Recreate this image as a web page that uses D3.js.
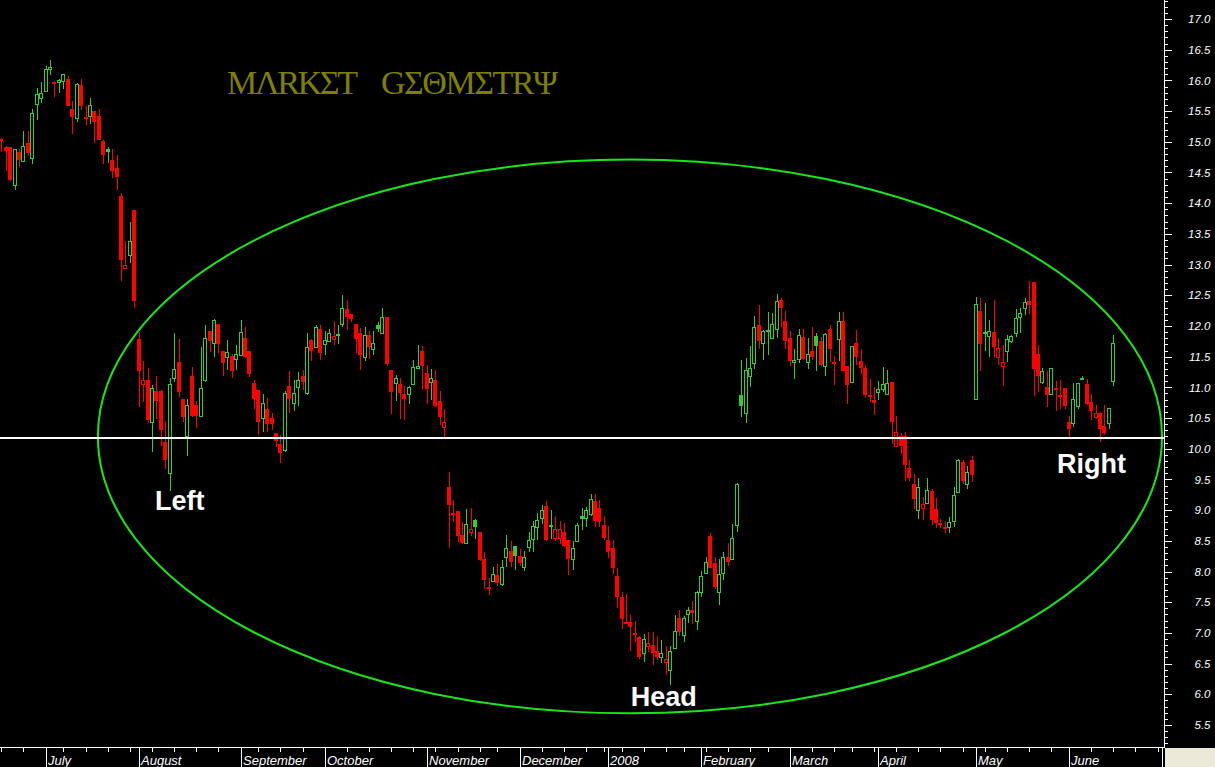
<!DOCTYPE html>
<html>
<head>
<meta charset="utf-8">
<script src="https://cdn.jsdelivr.net/npm/d3@7"></script>
<style>
html,body{margin:0;padding:0;background:#000;overflow:hidden;}
svg{display:block;}
</style>
</head>
<body>
<svg id="chart" width="1215" height="767"></svg>
<script>
// ---- Data (daily OHLC, trading-day index 0 = 18 Jun 2007) ----
const openP = [15.04,14.92,14.92,14.29,14.83,14.68,14.98,14.74,15.62,15.72,
15.82,16.18,15.97,15.97,15.99,16.02,15.53,15.39,15.93,15.40,
15.42,15.50,15.42,15.01,14.88,14.70,14.57,14.12,12.95,13.16,
13.89,11.79,11.05,11.12,10.44,10.94,10.94,10.11,9.61,11.16,
11.41,10.81,10.20,11.19,10.72,10.54,11.12,11.92,11.72,12.03,
11.59,11.49,11.51,11.46,11.53,11.80,11.59,11.07,10.96,10.50,
10.64,10.50,10.25,10.08,9.98,11.02,10.75,11.01,11.19,10.91,
11.77,11.66,11.95,11.71,11.75,11.79,11.86,12.03,12.27,12.20,
12.03,11.88,11.49,11.86,11.62,12.02,11.88,12.14,11.28,11.07,
11.06,10.89,10.89,11.05,11.32,11.59,11.23,11.09,11.12,10.78,
10.36,9.38,8.95,8.98,8.59,8.47,8.64,8.84,8.65,8.21,
7.75,7.84,7.95,7.80,8.24,8.34,8.42,8.25,8.07,8.40,
8.53,8.73,8.87,9.07,8.75,8.55,8.55,8.65,8.52,8.20,
8.50,8.91,8.87,8.93,9.15,9.04,8.76,8.52,8.39,7.93,
7.58,7.18,7.17,7.00,6.93,6.67,6.78,6.81,6.70,6.60,
6.52,6.39,6.75,7.24,6.96,7.30,7.38,7.19,7.66,7.97,
8.58,8.14,7.67,7.97,8.23,8.21,8.75,10.88,10.59,11.19,
11.40,12.02,11.72,11.91,11.81,11.95,12.42,12.08,11.80,11.42,
11.46,11.82,11.42,11.59,11.84,11.76,11.34,11.95,11.41,11.79,
12.08,11.35,11.09,11.72,11.43,11.31,10.88,10.80,10.93,10.97,
10.89,11.08,10.05,10.20,10.21,9.68,9.43,9.00,9.04,9.11,
9.31,9.02,8.79,8.73,8.72,8.83,9.29,9.79,9.42,9.82,
10.81,12.24,11.89,11.83,11.90,11.50,11.35,11.60,11.75,11.88,
12.15,12.29,12.40,12.72,11.54,11.09,11.00,10.89,10.99,10.88,
10.99,10.44,10.42,10.69,11.15,11.06,10.76,10.52,10.59,10.37,
10.42,11.11];
const highP = [15.06,14.93,14.92,14.88,14.88,15.18,15.17,15.53,15.88,15.97,
16.24,16.33,15.99,16.03,16.10,16.07,15.67,15.95,16.02,15.59,
15.71,15.50,15.53,15.03,14.92,14.89,14.78,14.16,13.39,13.69,
13.89,11.90,11.43,11.31,11.04,11.18,10.96,10.45,11.16,11.89,
11.78,10.81,10.81,11.33,10.78,11.66,12.02,11.92,12.11,12.04,
11.60,11.77,11.54,11.69,12.09,11.98,11.60,11.12,10.96,10.89,
10.82,10.58,10.26,10.23,10.94,11.27,11.12,11.25,11.28,11.88,
11.78,12.02,12.01,11.91,11.95,12.08,12.01,12.51,12.42,12.20,
12.04,11.96,11.98,11.91,11.91,12.06,12.29,12.15,11.29,11.20,
11.15,11.02,11.02,11.45,11.69,11.67,11.37,11.30,11.28,10.94,
10.64,9.62,9.17,8.98,8.81,9.02,9.03,8.86,8.65,8.32,
7.90,8.08,8.12,8.19,8.60,8.50,8.42,8.36,8.34,8.65,
8.82,8.95,9.09,9.15,9.00,8.90,8.82,8.79,8.52,8.49,
8.79,9.03,9.05,9.26,9.26,9.17,8.91,8.74,8.52,8.05,
7.67,7.64,7.29,7.20,6.95,6.98,7.01,7.02,6.95,6.89,
6.78,6.78,7.29,7.38,7.28,7.43,7.52,7.68,8.01,8.24,
8.62,8.24,8.20,8.31,8.46,8.78,9.45,11.45,11.47,11.67,
12.16,12.34,11.94,12.22,12.21,12.52,12.45,12.24,11.91,11.63,
11.95,11.95,11.80,11.99,11.89,11.82,11.89,12.02,11.51,12.22,
12.22,11.35,11.68,11.94,11.63,11.37,11.14,11.00,11.10,11.33,
11.28,11.09,10.53,10.26,10.27,9.82,9.59,9.52,9.21,9.52,
9.35,9.19,8.85,8.83,8.89,9.37,9.84,9.82,9.72,9.88,
12.47,12.46,12.38,12.10,12.42,11.80,11.69,11.86,11.86,12.28,
12.30,12.46,12.73,12.72,11.69,11.31,11.26,11.31,11.10,11.12,
10.99,10.54,11.07,11.07,11.19,11.14,10.89,10.71,10.60,10.71,
10.66,11.85];
const lowP = [14.84,14.54,14.37,14.23,14.60,14.68,14.77,14.64,15.36,15.64,
15.82,16.09,15.73,15.81,15.86,15.59,15.13,15.33,15.53,15.28,
15.30,14.99,15.03,14.64,14.66,14.42,14.23,12.74,12.93,13.03,
12.30,10.69,10.77,10.42,9.95,10.50,10.06,9.67,9.32,11.09,
10.85,10.44,9.89,10.52,10.34,10.52,11.10,11.59,11.51,11.57,
11.19,11.29,11.16,11.29,11.52,11.49,11.18,10.66,10.23,10.28,
10.28,10.31,10.04,9.77,9.95,10.59,10.63,10.71,10.96,10.89,
11.44,11.65,11.45,11.54,11.74,11.69,11.72,11.99,11.94,12.07,
11.57,11.29,11.44,11.47,11.53,11.91,11.87,11.36,10.58,10.78,
10.50,10.48,10.74,11.04,11.30,10.97,10.73,10.80,10.68,10.39,
10.19,8.39,8.82,8.49,8.45,8.45,8.58,8.53,8.18,7.72,
7.62,7.83,7.77,7.78,8.08,8.08,8.04,8.09,8.01,8.33,
8.33,8.52,8.79,8.50,8.54,8.50,8.46,8.41,7.95,8.03,
8.49,8.68,8.74,8.92,8.73,8.74,8.52,8.23,7.97,7.41,
7.07,7.15,6.72,6.86,6.59,6.53,6.70,6.48,6.56,6.51,
6.33,6.16,6.75,6.95,6.86,7.17,7.16,7.05,7.60,7.97,
8.06,7.73,7.47,7.87,8.09,8.20,8.65,10.53,10.42,11.02,
11.31,11.64,11.46,11.54,11.80,11.81,11.99,11.63,11.35,11.14,
11.40,11.45,11.30,11.46,11.28,11.36,11.19,11.42,11.04,11.43,
11.27,10.73,11.08,11.38,11.23,10.84,10.77,10.55,10.81,10.93,
10.89,10.09,10.05,9.93,9.48,9.48,9.03,8.86,8.84,9.10,
8.76,8.71,8.71,8.63,8.63,8.73,9.28,9.43,9.35,9.47,
10.80,11.28,11.60,11.50,11.49,11.38,11.03,11.42,11.73,11.83,
11.90,12.19,12.21,10.86,10.93,11.07,10.69,10.88,10.63,10.66,
10.66,10.18,10.36,10.66,11.12,10.72,10.47,10.50,10.12,10.23,
10.33,11.03];
const closeP = [15.03,14.85,14.38,14.88,14.70,14.93,14.81,15.47,15.78,15.80,
16.19,16.21,15.95,16.00,16.10,15.59,15.41,15.94,15.59,15.39,
15.60,15.33,15.03,14.78,14.84,14.53,14.43,13.08,13.00,13.39,
12.40,11.26,11.12,10.47,10.99,10.77,10.30,9.82,11.05,11.30,
10.93,10.51,10.72,10.54,10.53,10.99,11.80,11.76,12.09,11.70,
11.39,11.57,11.27,11.54,11.90,11.50,11.22,10.81,10.44,10.74,
10.41,10.40,10.12,9.93,10.90,10.81,10.90,11.12,11.08,11.65,
11.60,11.98,11.56,11.77,11.88,11.84,11.87,12.29,12.14,12.11,
11.78,11.52,11.86,11.65,11.73,11.95,12.14,11.38,10.93,11.15,
10.90,10.81,11.00,11.33,11.35,11.34,10.97,11.16,10.69,10.51,
10.43,9.09,8.94,8.58,8.46,8.77,8.70,8.73,8.19,7.87,
7.73,7.96,7.81,8.07,8.38,8.15,8.25,8.14,8.24,8.52,
8.74,8.84,9.00,8.52,8.76,8.70,8.69,8.42,8.21,8.38,
8.76,8.86,9.00,9.18,8.82,8.80,8.55,8.31,8.06,7.59,
7.23,7.17,7.09,6.98,6.60,6.90,6.84,6.68,6.60,6.67,
6.57,6.71,7.03,7.01,7.24,7.38,7.32,7.66,7.93,8.15,
8.06,7.74,7.96,8.24,8.16,8.54,9.42,10.70,11.28,11.31,
11.98,11.75,11.92,11.93,12.03,12.41,12.30,11.75,11.43,11.45,
11.85,11.46,11.54,11.50,11.68,11.37,11.87,11.63,11.40,12.08,
11.27,11.04,11.67,11.50,11.31,10.88,10.84,10.74,10.97,11.05,
11.07,10.44,10.27,10.04,9.74,9.53,9.18,9.37,9.10,9.33,
8.84,8.79,8.78,8.72,8.80,9.25,9.82,9.48,9.62,9.57,
12.36,11.70,11.90,11.91,11.65,11.64,11.41,11.78,11.84,12.13,
12.21,12.39,12.34,11.30,11.19,11.27,10.87,11.31,10.98,10.86,
10.69,10.32,10.81,11.07,11.16,10.73,10.62,10.58,10.32,10.26,
10.66,11.72];

// Month separators (index of first trading day) and labels
const monthStarts = [10, 31, 54, 73, 96, 117, 137, 158, 178, 198, 220, 241, 262];
const monthLabels = ["July","August","September","October","November","December","2008","February","March","April","May","June",""];
// First trading day of each week
const weekStarts = [0,5,10,14,19,24,29,34,39,44,49,54,58,63,68,73,78,83,88,93,98,103,108,112,117,122,127,132,136,140,145,150,154,159,164,169,173,178,183,188,192,197,202,207,212,217,222,227,232,237,241,246,251,256,261];
// Price axis labels
const priceLabels = ["5.5","6.0","6.5","7.0","7.5","8.0","8.5","9.0","9.5","10.0","10.5","11.0","11.5","12.0","12.5","13.0","13.5","14.0","14.5","15.0","15.5","16.0","16.5","17.0"];
// Pattern annotations (day index, price)
const noteText  = ["Left", "Head", "Right"];
const noteDay   = [34.7, 142.1, 238.3];
const notePrice = [9.00, 5.81, 9.61];
// Neckline and ellipse (in day / price units)
const necklinePrice = 10.18;
const ellipseCenter = [141.9, 10.20];
const ellipseHalf = [120.1, 4.51];

// ---- Drawing ----
const W = 1215, H = 767;
const svg = d3.select("#chart");
const x = d3.scaleLinear().domain([0, 262]).range([1.33, 1162]);
const y = d3.scaleLinear().domain([5.5, 17]).range([725, 19]);
const FONT = "'Liberation Sans', Arial, Helvetica, sans-serif";
const GREEN = "#33cc33", RED = "#ff0000";

svg.append("rect").attr("width", W).attr("height", H).attr("fill", "#000");

// Title
svg.append("text").attr("x", 227).attr("y", 94)
  .attr("font-family", "'Liberation Serif', 'DejaVu Serif', serif").attr("font-size", 34)
  .attr("fill", "#808000").attr("textLength", 131).attr("lengthAdjust", "spacing")
  .text("MΛRKΣT");
svg.append("text").attr("x", 381).attr("y", 94)
  .attr("font-family", "'Liberation Serif', 'DejaVu Serif', serif").attr("font-size", 34)
  .attr("fill", "#808000").attr("textLength", 177).attr("lengthAdjust", "spacing")
  .text("GΣΘMΣTRΨ");

// Candles
const candles = openP.map((o, i) => ({
  i, o, h: highP[i], l: lowP[i], c: closeP[i],
  pc: i ? closeP[i - 1] : o
}));
const cg = svg.append("g").attr("shape-rendering", "crispEdges");
const colorOf = d => d.c >= d.pc ? GREEN : RED;
const px = d => Math.round(x(d.i));

cg.selectAll("line.wick").data(candles).join("line")
  .attr("class", "wick")
  .attr("x1", d => px(d) + 0.5).attr("x2", d => px(d) + 0.5)
  .attr("y1", d => y(d.h)).attr("y2", d => y(d.l) + 0.5)
  .attr("stroke", colorOf).attr("stroke-width", 1);

const bodyTop = d => Math.round(y(Math.max(d.o, d.c)));
const bodyH = d => Math.max(1, Math.round(y(Math.min(d.o, d.c))) - bodyTop(d));

cg.selectAll("rect.filled").data(candles.filter(d => d.c <= d.o)).join("rect")
  .attr("class", "filled")
  .attr("x", d => px(d) - 2).attr("width", 4)
  .attr("y", bodyTop).attr("height", d => Math.max(2, bodyH(d)))
  .attr("fill", colorOf);

cg.selectAll("rect.hollow").data(candles.filter(d => d.c > d.o)).join("rect")
  .attr("class", "hollow")
  .attr("x", d => px(d) - 1.5).attr("width", 3)
  .attr("y", d => bodyTop(d) + 0.5).attr("height", d => Math.max(1, bodyH(d)))
  .attr("fill", "#000").attr("stroke", colorOf).attr("stroke-width", 1);

// Ellipse
svg.append("ellipse")
  .attr("cx", x(ellipseCenter[0])).attr("cy", y(ellipseCenter[1]))
  .attr("rx", x(ellipseCenter[0] + ellipseHalf[0]) - x(ellipseCenter[0]))
  .attr("ry", y(ellipseCenter[1] - ellipseHalf[1]) - y(ellipseCenter[1]))
  .attr("fill", "none").attr("stroke", "#19e619").attr("stroke-width", 2);

// Neckline
svg.append("line").attr("x1", 0).attr("x2", 1164)
  .attr("y1", y(necklinePrice)).attr("y2", y(necklinePrice))
  .attr("stroke", "#fff").attr("stroke-width", 2).attr("shape-rendering", "crispEdges");

// Annotations
svg.selectAll("text.note").data(noteText).join("text")
  .attr("class", "note")
  .attr("x", (t, k) => x(noteDay[k])).attr("y", (t, k) => y(notePrice[k]))
  .attr("font-family", FONT).attr("font-weight", "bold").attr("font-size", 27)
  .attr("fill", "#fff").text(t => t);

// Right price axis
const major = priceLabels.map(Number);
const minor = d3.range(52, 174).map(v => v / 10).filter(v => Math.round(v * 10) % 5 !== 0);
const yAxisMinor = svg.append("g").attr("transform", "translate(1164,0)")
  .call(d3.axisRight(y).tickValues(minor).tickSize(4).tickSizeOuter(0).tickFormat(""));
const yAxisMajor = svg.append("g").attr("transform", "translate(1164,0)")
  .call(d3.axisRight(y).tickValues(major).tickSize(8).tickSizeOuter(0)
    .tickFormat((v, k) => priceLabels[k]));
[yAxisMinor, yAxisMajor].forEach(g => {
  g.select(".domain").remove();
  g.selectAll(".tick line").attr("stroke", "#fff").attr("shape-rendering", "crispEdges");
});
yAxisMajor.selectAll(".tick text")
  .attr("x", 46.5).attr("text-anchor", "end").attr("fill", "#fff")
  .attr("font-family", FONT).attr("font-style", "italic").attr("font-size", 11.5);
svg.append("line").attr("x1", 1164.5).attr("x2", 1164.5).attr("y1", 0).attr("y2", 747)
  .attr("stroke", "#fff").attr("shape-rendering", "crispEdges");

// Bottom time axis
svg.append("line").attr("x1", 0).attr("x2", 1165).attr("y1", 747.5).attr("y2", 747.5)
  .attr("stroke", "#fff").attr("shape-rendering", "crispEdges");
const xAxis = svg.append("g").attr("transform", "translate(0,747)")
  .call(d3.axisBottom(x).tickValues(weekStarts).tickSize(5).tickSizeOuter(0).tickFormat(""));
xAxis.select(".domain").remove();
xAxis.selectAll(".tick line").attr("stroke", "#fff").attr("shape-rendering", "crispEdges");

const months = svg.append("g");
months.selectAll("line").data(monthStarts).join("line")
  .attr("x1", d => Math.round(x(d)) + 0.5).attr("x2", d => Math.round(x(d)) + 0.5)
  .attr("y1", 747).attr("y2", 767)
  .attr("stroke", "#fff").attr("shape-rendering", "crispEdges");
months.selectAll("text").data(monthStarts).join("text")
  .attr("x", d => Math.round(x(d)) + 2).attr("y", 765)
  .attr("font-family", FONT).attr("font-style", "italic").attr("font-size", 13)
  .attr("fill", "#fff").text((d, k) => monthLabels[k]);

// Corner box
svg.append("rect").attr("x", 1165).attr("y", 748).attr("width", 50).attr("height", 19)
  .attr("fill", "#ece9d8");
</script>
</body>
</html>
